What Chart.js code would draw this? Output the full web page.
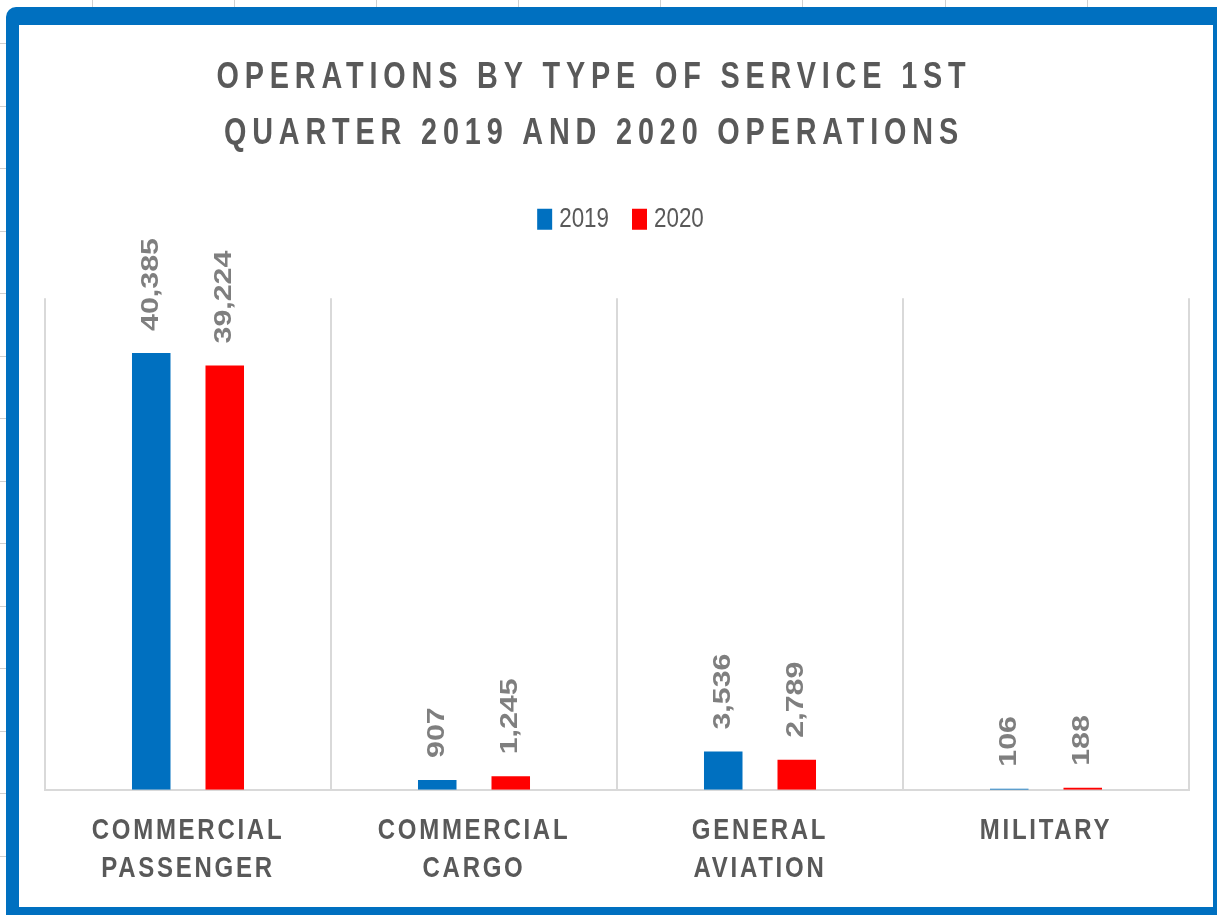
<!DOCTYPE html>
<html><head><meta charset="utf-8">
<script src="https://cdn.jsdelivr.net/npm/chart.js@4"></script>
<style>html,body{margin:0;padding:0;background:#fff;overflow:hidden}#wrap{position:relative;width:1217px;height:915px}</style>
</head><body><div id="wrap"><canvas id="c" width="1217" height="915"></canvas></div>
<script>
const categories = [["COMMERCIAL","PASSENGER"],["COMMERCIAL","CARGO"],["GENERAL","AVIATION"],["MILITARY"]];
const seriesNames = ["2019","2020"];
const values2019 = [40385, 907, 3536, 106];
const values2020 = [39224, 1245, 2789, 188];
const titleLines = ["OPERATIONS BY TYPE OF SERVICE 1ST","QUARTER 2019 AND 2020 OPERATIONS"];
const seriesColors = ["#0070c0","#ff0000"];

function fmt(v){ return String(v).replace(/\B(?=(\d{3})+(?!\d))/g, ","); }

function wrap(obj, name, fn){
  if(!obj || obj['_w_'+name]) return;
  const f = obj[name];
  obj[name] = function(...a){ return fn.call(this, f, a); };
  obj['_w_'+name] = true;
}
// Draw/measure text condensed horizontally (sx), with letter spacing (ls), text shift (dx), whole-shift (ax)
function condensed(sx, ls, dx, ax){
  return function(f, a){
    const c = this.ctx;
    const ofill = CanvasRenderingContext2D.prototype.fillText;
    const omeasure = CanvasRenderingContext2D.prototype.measureText;
    c.save();
    if(ax) c.translate(ax, 0);
    const oldLs = c.letterSpacing;
    c.fillText = function(t, x, y){
      this.save(); this.letterSpacing = ls; this.translate(x + (dx||0), y); this.scale(sx, 1);
      ofill.call(this, t, 0, 0); this.restore();
    };
    c.measureText = function(t){
      const prev = this.letterSpacing; this.letterSpacing = ls;
      const m = omeasure.call(this, t); this.letterSpacing = prev;
      return {width: m.width * sx, actualBoundingBoxAscent: m.actualBoundingBoxAscent,
        actualBoundingBoxDescent: m.actualBoundingBoxDescent,
        actualBoundingBoxLeft: m.actualBoundingBoxLeft * sx, actualBoundingBoxRight: m.actualBoundingBoxRight * sx};
    };
    try { return f.apply(this, a); }
    finally { delete c.fillText; delete c.measureText; c.letterSpacing = oldLs || '0px'; c.restore(); }
  };
}

const framePlugin = {
  id:'frame',
  beforeLayout(chart){
    wrap(chart.legend, 'fit', function(f,a){
      const r = condensed(0.8, '0px', 0, 0).call(this, f, a);
      this.height = 109; return r; });
  },
  beforeDraw(chart){
    const ctx = chart.ctx, W = chart.width, H = chart.height;
    ctx.save();
    ctx.fillStyle = '#ffffff'; ctx.fillRect(0,0,W,H);
    ctx.strokeStyle = '#d0d0d0'; ctx.lineWidth = 1;
    [92,234,376,518,660,802,945,1087].forEach(x=>{ctx.beginPath();ctx.moveTo(x+0.5,0);ctx.lineTo(x+0.5,8);ctx.stroke();});
    for(let y=43;y<H;y+=62.5){ctx.beginPath();ctx.moveTo(0,Math.round(y)+0.5);ctx.lineTo(6,Math.round(y)+0.5);ctx.stroke();}
    ctx.fillStyle = '#0070c0';
    ctx.beginPath();
    if(ctx.roundRect){ ctx.roundRect(6,7,W+40,H+40,10); } else { ctx.rect(6,7,W+40,H+40); }
    ctx.fill();
    ctx.fillStyle = '#ffffff';
    ctx.fillRect(19,25,1213-19,907-25);
    ctx.restore();
    wrap(chart.titleBlock, 'draw', condensed(0.8, '7.3px', -23, 0));
    wrap(chart.legend, 'draw', condensed(0.8, '0px', -7, 7));
    wrap(chart.scales.x, 'drawLabels', condensed(0.8, '3.4px', 0, 0));
  },
  afterDatasetsDraw(chart){
    const ctx = chart.ctx;
    chart.data.datasets.forEach((ds,i)=>{
      const meta = chart.getDatasetMeta(i);
      meta.data.forEach((el,j)=>{
        const txt = fmt(ds.data[j]);
        ctx.save();
        ctx.translate(el.x, el.y - 22);
        ctx.rotate(-Math.PI/2);
        ctx.scale(1.32,1);
        ctx.font = 'bold 23px "Liberation Sans", Arial, sans-serif';
        ctx.fillStyle = '#7f7f7f';
        ctx.textAlign = 'left';
        ctx.textBaseline = 'middle';
        ctx.fillText(txt, 0, 0);
        ctx.restore();
      });
    });
  }
};

new Chart(document.getElementById('c'), {
  type:'bar',
  data:{
    labels: categories,
    datasets:[
      {label: seriesNames[0], data: values2019, backgroundColor: seriesColors[0], categoryPercentage:0.514, barPercentage:0.524},
      {label: seriesNames[1], data: values2020, backgroundColor: seriesColors[1], categoryPercentage:0.514, barPercentage:0.524}
    ]
  },
  options:{
    responsive:false, animation:false, devicePixelRatio:1,
    layout:{padding:{left:45,right:28,top:0,bottom:5}},
    plugins:{
      title:{display:true, text:titleLines, color:'#595959',
        font:{family:'"Liberation Sans", Arial, sans-serif', size:36, weight:'bold', lineHeight:1.53},
        padding:{top:51, bottom:28}},
      legend:{display:true, position:'top',
        labels:{color:'#595959', boxWidth:15, boxHeight:21, padding:16,
          font:{family:'"Liberation Sans", Arial, sans-serif', size:28}}},
      tooltip:{enabled:false}
    },
    scales:{
      x:{
        grid:{display:true, offset:true, color:'#d9d9d9', lineWidth:2, drawTicks:false},
        border:{display:true, color:'#d9d9d9', width:2},
        ticks:{color:'#595959', padding:22,
          font:{family:'"Liberation Sans", Arial, sans-serif', size:30, weight:'bold', lineHeight:1.27}}
      },
      y:{display:false, min:0, max:45450}
    }
  },
  plugins:[framePlugin]
});
</script></body></html>
